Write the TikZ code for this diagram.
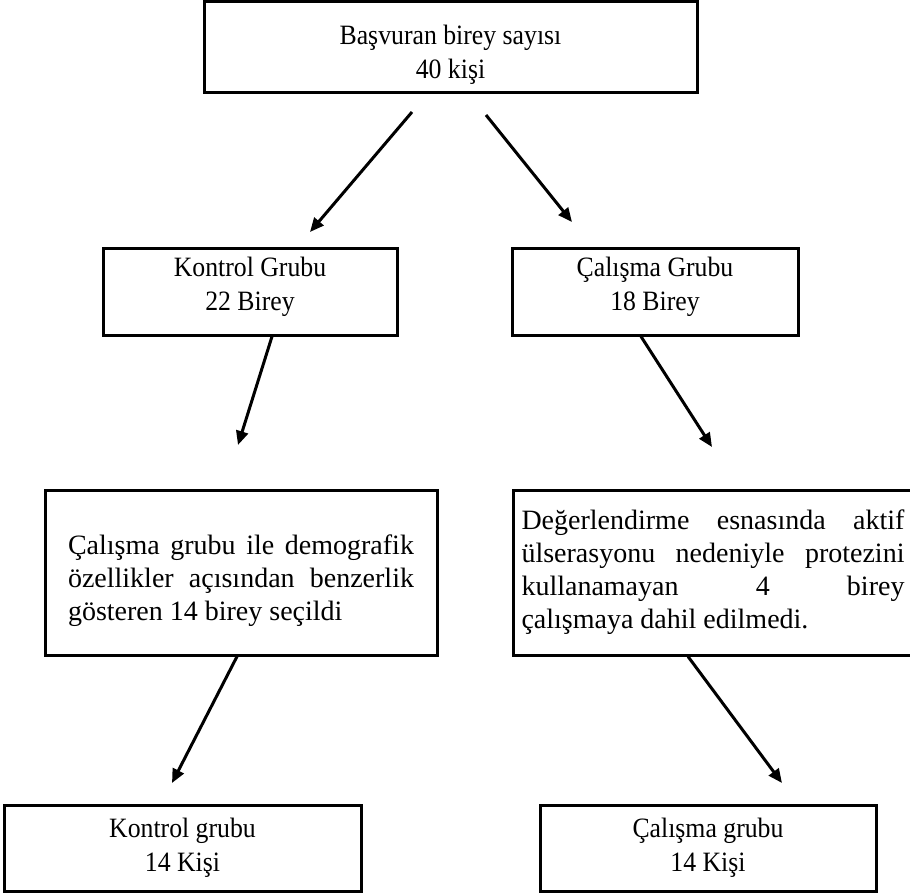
\documentclass[tikz,border=0pt]{standalone}
\usepackage{fontspec}
\setmainfont{Liberation Serif}
\newfontfamily\darserif[FakeStretch=0.92]{Liberation Serif}
\usetikzlibrary{arrows.meta,positioning,calc}
\tikzset{box/.style={draw,line width=3pt,align=center,inner sep=0pt,font=\darserif\fontsize{28}{34}\selectfont},
  notebox/.style={box,align=justify,font=\fontsize{28}{33}\selectfont},
  arr/.style={-{Triangle[length=14pt,width=12pt]},line width=3pt}}

\begin{document}
\begin{tikzpicture}[x=1pt,y=-1pt]
\useasboundingbox (0,0) rectangle (910,894);
% boxes
\node[box,minimum width=493pt,minimum height=91pt] (basvuru) at (450.5,47) {\rule{0pt}{34pt}Başvuran birey sayısı\\40 kişi};
\node[box,minimum width=294pt,minimum height=87pt] (kontrol) at (250,291.5) {Kontrol Grubu\\22 Birey\rule[-16pt]{0pt}{16pt}};
\node[box,minimum width=286pt,minimum height=87pt] (calisma) at (655,291.5) {Çalışma Grubu\\18 Birey\rule[-16pt]{0pt}{16pt}};
\node[notebox,text width=346pt,minimum width=392pt,minimum height=165pt] (secim) at (241,572.5)
  {\rule{0pt}{36pt}Çalışma grubu ile demografik\linebreak özellikler açısından benzerlik\linebreak gösteren 14 birey seçildi};
\node[notebox,text width=383pt,minimum width=400pt,minimum height=165pt] (dislama) at (713,572.5)
  {Değerlendirme esnasında aktif\linebreak ülserasyonu nedeniyle protezini\linebreak kullanamayan 4 birey\linebreak çalışmaya dahil edilmedi.};
\node[box,minimum width=357pt,minimum height=86pt] (kontrolson) at (182.5,848) {Kontrol grubu\\14 Kişi};
\node[box,minimum width=336pt,minimum height=86pt] (calismason) at (708,848) {Çalışma grubu\\14 Kişi};
% arrow ends
\coordinate (a1) at (412,112); \coordinate (b1) at (310,232);
\coordinate (a2) at (486,115); \coordinate (b2) at (572,222);
\coordinate (b3) at (238,445); \coordinate (b4) at (712,447);
\coordinate (b5) at (172,783); \coordinate (b6) at (782,783);
\draw[arr] (a1)--(b1);
\draw[arr] (a2)--(b2);
\draw[arr] (kontrol.south -| 272,0)--(b3);
\draw[arr] (calisma.south -| 641,0)--(b4);
\draw[arr] (secim.south -| 237,0)--(b5);
\draw[arr] (dislama.south -| 688,0)--(b6);
\end{tikzpicture}
\end{document}
